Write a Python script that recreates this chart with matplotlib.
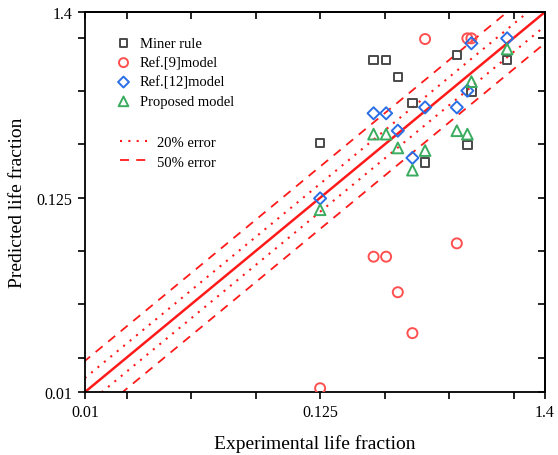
import matplotlib
matplotlib.use("Agg")
import matplotlib.pyplot as plt
from matplotlib.lines import Line2D
import numpy as np

plt.rcParams['font.family'] = ['Liberation Serif', 'DejaVu Serif']

# Data
x_exp = [0.125, 0.222, 0.254, 0.288, 0.337, 0.386, 0.543, 0.608, 0.635, 0.932]
miner = [0.254, 0.75, 0.75, 0.599, 0.429, 0.198, 0.80, 0.249, 0.498, 0.75]
x_ref9 = [0.125, 0.222, 0.254, 0.288, 0.337, 0.386, 0.543, 0.608, 0.635]
ref9 = [0.0105, 0.0581, 0.0581, 0.0366, 0.0215, 0.985, 0.0691, 0.994, 0.994]
ref12 = [0.124, 0.375, 0.375, 0.299, 0.210, 0.405, 0.405, 0.503, 0.932, 0.994]
proposed = [0.107, 0.286, 0.286, 0.239, 0.179, 0.231, 0.299, 0.286, 0.566, 0.865]

tick_vals = [0.01, 0.125, 1.4]
tick_labels = ['0.01', '0.125', '1.4']
minor_vals = [0.015625, 0.03125, 0.0625, 0.25, 0.5, 1.0]

fig = plt.figure(figsize=(5.58, 4.56), dpi=100)
ax = fig.add_axes([85/558, 1-393/456, 460/558, 380/456])
ax.set_xscale('log')
ax.set_yscale('log')
ax.set_xlim(0.01, 1.4)
ax.set_ylim(0.01, 1.4)

red = '#ff1a1a'
xx = np.array([0.005, 3.0])
ax.plot(xx, xx, color=red, lw=1.8, zorder=2)
ax.plot(xx, xx*1.2, color=red, lw=1.5, ls=(0, (1, 3)), zorder=2)
ax.plot(xx, xx/1.2, color=red, lw=1.5, ls=(0, (1, 3)), zorder=2)
ax.plot(xx, xx*1.5, color=red, lw=1.3, ls=(0, (5, 4)), zorder=2)
ax.plot(xx, xx/1.5, color=red, lw=1.3, ls=(0, (5, 4)), zorder=2)

c_sq = '#4a4a4a'
c_ci = '#ff5050'
c_di = '#2a6fe6'
c_tr = '#3aac60'
h1 = ax.scatter(x_exp, miner, marker='s', s=36, facecolors='none', edgecolors=c_sq, linewidths=1.4, zorder=3, label='Miner rule')
h2 = ax.scatter(x_ref9, ref9, marker='o', s=52, facecolors='none', edgecolors=c_ci, linewidths=1.4, zorder=3, label='Ref.[9]model')
h3 = ax.scatter(x_exp, ref12, marker='D', s=38, facecolors='none', edgecolors=c_di, linewidths=1.4, zorder=3, label='Ref.[12]model')
h4 = ax.scatter(x_exp, proposed, marker='^', s=60, facecolors='none', edgecolors=c_tr, linewidths=1.4, zorder=3, label='Proposed model')

ax.set_xticks(tick_vals)
ax.set_xticklabels(tick_labels)
ax.set_yticks(tick_vals)
ax.set_yticklabels(tick_labels)
ax.set_xticks(minor_vals, minor=True)
ax.set_yticks(minor_vals, minor=True)
ax.xaxis.set_minor_formatter(matplotlib.ticker.NullFormatter())
ax.yaxis.set_minor_formatter(matplotlib.ticker.NullFormatter())

ax.tick_params(which='both', direction='out', length=5, width=1.2, labelsize=11.5,
               top=False, right=False)
ax.tick_params(axis='both', pad=4)
# mirrored ticks on top/right pointing inward
ax2 = ax.secondary_xaxis('top')
ax2.set_xticks(tick_vals + minor_vals)
ax2.tick_params(direction='in', length=5, width=1.2, labeltop=False)
ax3 = ax.secondary_yaxis('right')
ax3.set_yticks(tick_vals + minor_vals)
ax3.tick_params(direction='in', length=5, width=1.2, labelright=False)
ax2.xaxis.set_minor_locator(matplotlib.ticker.NullLocator())
ax3.yaxis.set_minor_locator(matplotlib.ticker.NullLocator())
for s in ax.spines.values():
    s.set_linewidth(1.3)
ax2.spines['top'].set_linewidth(1.3)
ax3.spines['right'].set_linewidth(1.3)

ax.set_xlabel('Experimental life fraction', fontsize=14, labelpad=10)
ax.set_ylabel('Predicted life fraction', fontsize=14, labelpad=8)

leg1 = ax.legend(handles=[h1, h2, h3, h4], loc='upper left', bbox_to_anchor=(0.052, 0.95),
                 frameon=False, fontsize=10.5, handletextpad=0.5, labelspacing=0.42,
                 borderaxespad=0, handlelength=1.2, markerscale=0.9)
ax.add_artist(leg1)
l1 = Line2D([], [], color=red, lw=1.5, ls=(0, (1, 3)))
l2 = Line2D([], [], color=red, lw=1.3, ls=(0, (5, 4)))
ax.legend(handles=[l1, l2], labels=['20% error', '50% error'], loc='upper left',
          bbox_to_anchor=(0.063, 0.689), frameon=False, fontsize=10.5, handlelength=2.2,
          handletextpad=0.35, labelspacing=0.42, borderaxespad=0)

fig.savefig('out.png', dpi=100)
